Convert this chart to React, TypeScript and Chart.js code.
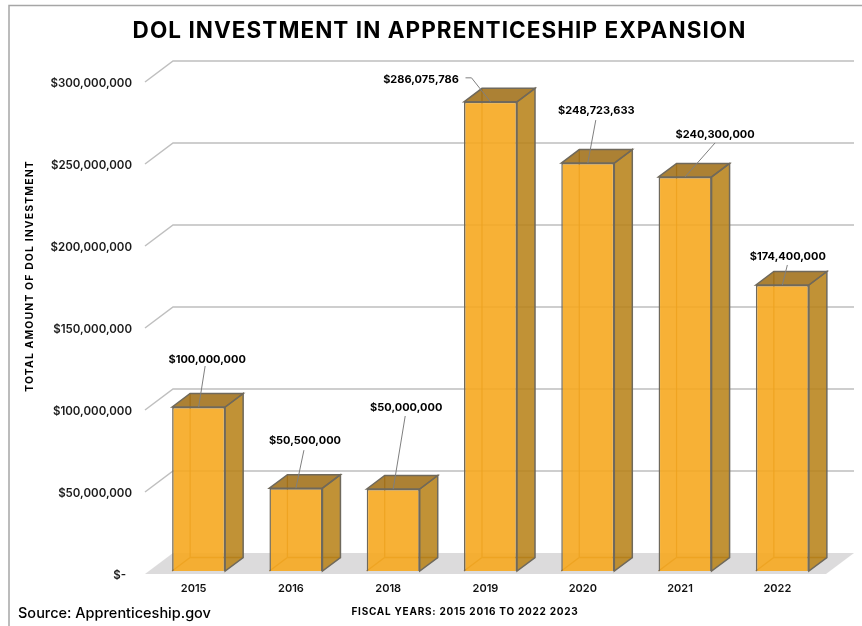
import React, { useEffect, useRef } from "react";
import { Chart, registerables } from "chart.js";

Chart.register(...registerables);

const categories = ["2015", "2016", "2018", "2019", "2020", "2021", "2022"];
const investment = [100000000, 50500000, 50000000, 286075786, 248723633, 240300000, 174400000];
const titleText = "DOL INVESTMENT IN APPRENTICESHIP EXPANSION";
const yTitleText = "TOTAL AMOUNT OF DOL INVESTMENT";
const xTitleText = "FISCAL YEARS: 2015 2016 TO 2022 2023";
const sourceText = "Source: Apprenticeship.gov";

const FONT = "Inter, 'Noto Sans', sans-serif";
const money = (v: number) => "$" + v.toLocaleString("en-US");

// 3-D layout of the scene
const wallDX = 28, wallDY = 21; // from front axis to back wall
const barDX = 18, barDY = 13.5; // bar depth
const shiftX = 5, shiftY = -3; // bars stand a little behind the front edge

// label anchor and leader start, relative to the front-top-centre of each bar
const labelOffsets = [[8.5, -47], [9, -47], [13, -81.5], [-69.5, -22], [8.5, -52], [30, -42], [5.5, -28]];
const leaderOffsets = [[6.5, -41], [8, -38], [12, -73], [-25, -24], [8, -43], [30, -34], [5, -20]];

const scenePlugin = {
  id: "scene",
  beforeDraw(chart: any) {
    const { ctx, width, height } = chart;
    const tb = chart.titleBlock;
    if (tb && !tb.__spaced) {
      const original = tb.draw;
      tb.__spaced = true;
      tb.draw = function (...args: any[]) {
        ctx.save();
        ctx.translate(26.5, 0);
        ctx.letterSpacing = "1.05px";
        original.apply(tb, args);
        ctx.restore();
      };
    }
    ctx.save();
    ctx.fillStyle = "#ffffff";
    ctx.fillRect(0, 0, width, height);
    ctx.strokeStyle = "#a6a6a6";
    ctx.lineWidth = 1.5;
    ctx.beginPath();
    ctx.moveTo(9, height);
    ctx.lineTo(9, 5.5);
    ctx.lineTo(width, 5.5);
    ctx.stroke();
    ctx.restore();
  },
  beforeDatasetsDraw(chart: any) {
    const { ctx, chartArea, scales } = chart;
    const { left, right } = chartArea;
    const y = scales.y;
    ctx.save();
    // floor
    const y0 = y.getPixelForValue(0);
    ctx.fillStyle = "#dcdbdc";
    ctx.beginPath();
    ctx.moveTo(left, y0);
    ctx.lineTo(left + wallDX, y0 - wallDY);
    ctx.lineTo(right + wallDX, y0 - wallDY);
    ctx.lineTo(right, y0);
    ctx.closePath();
    ctx.fill();
    // grid
    ctx.strokeStyle = "#bfbfbf";
    ctx.lineWidth = 1.5;
    y.ticks.forEach((t: any) => {
      if (t.value === 0) return;
      const p = y.getPixelForValue(t.value);
      ctx.beginPath();
      ctx.moveTo(left, p);
      ctx.lineTo(left + wallDX, p - wallDY);
      ctx.lineTo(right + wallDX, p - wallDY);
      ctx.stroke();
    });
    ctx.restore();

    // hidden faces of the boxes, then side and top
    ctx.save();
    ctx.translate(shiftX, shiftY);
    const meta = chart.getDatasetMeta(0);
    meta.data.forEach((bar: any) => {
      const w = bar.width / 2;
      const l = bar.x - w, r = bar.x + w, t = bar.y, b = bar.base;
      // inner edges
      ctx.strokeStyle = "rgba(150,95,10,0.8)";
      ctx.lineWidth = 1.3;
      ctx.beginPath();
      ctx.moveTo(l, b);
      ctx.lineTo(l + barDX, b - barDY);
      ctx.lineTo(r + barDX, b - barDY);
      ctx.moveTo(l + barDX, b - barDY);
      ctx.lineTo(l + barDX, t - barDY);
      ctx.stroke();
      // side
      ctx.lineWidth = 1.5;
      ctx.strokeStyle = "#6f695c";
      ctx.fillStyle = "rgba(184,130,24,0.87)";
      ctx.beginPath();
      ctx.moveTo(r, t);
      ctx.lineTo(r + barDX, t - barDY);
      ctx.lineTo(r + barDX, b - barDY);
      ctx.lineTo(r, b);
      ctx.closePath();
      ctx.fill();
      ctx.stroke();
      // top
      ctx.fillStyle = "rgba(160,110,22,0.87)";
      ctx.beginPath();
      ctx.moveTo(l, t);
      ctx.lineTo(l + barDX, t - barDY);
      ctx.lineTo(r + barDX, t - barDY);
      ctx.lineTo(r, t);
      ctx.closePath();
      ctx.fill();
      ctx.stroke();
    });
  },
  afterDatasetsDraw(chart: any) {
    const { ctx } = chart;
    ctx.restore(); // matches the translate of beforeDatasetsDraw
    const meta = chart.getDatasetMeta(0);
    ctx.save();
    meta.data.forEach((bar: any, i: number) => {
      const px = bar.x + shiftX, py = bar.y + shiftY;
      const [lx, ly] = labelOffsets[i];
      const [sx, sy] = leaderOffsets[i];
      ctx.strokeStyle = "#7f7f7f";
      ctx.lineWidth = 1;
      ctx.beginPath();
      ctx.moveTo(px + sx, py + sy);
      if (i === 3) ctx.lineTo(px + sx + 6, py + sy);
      ctx.lineTo(px, py);
      ctx.stroke();
      ctx.fillStyle = "#000000";
      ctx.font = `700 11px ${FONT}`;
      ctx.textAlign = "center";
      ctx.textBaseline = "middle";
      ctx.fillText(money(investment[i]), px + lx, py + ly);
    });
    ctx.restore();
  },
  afterDraw(chart: any) {
    const { ctx } = chart;
    ctx.save();
    ctx.fillStyle = "#000000";
    ctx.textBaseline = "middle";
    ctx.textAlign = "center";
    ctx.font = `700 10px ${FONT}`;
    ctx.letterSpacing = "0.75px";
    ctx.fillText(xTitleText, 465, 612);
    ctx.save();
    ctx.translate(30, 276);
    ctx.rotate(-Math.PI / 2);
    ctx.font = `700 10.5px ${FONT}`;
    ctx.letterSpacing = "1.1px";
    ctx.fillText(yTitleText, 0, 0);
    ctx.restore();
    ctx.textAlign = "left";
    ctx.letterSpacing = "0px";
    ctx.font = `500 14.5px ${FONT}`;
    ctx.fillText(sourceText, 18, 614);
    ctx.restore();
  },
};

export default function App() {
  const ref = useRef<HTMLCanvasElement>(null);
  useEffect(() => {
    const chart = new Chart(ref.current as HTMLCanvasElement, {
      type: "bar",
      data: {
        labels: categories,
        datasets: [
          {
            label: "DOL investment",
            data: investment,
            backgroundColor: "rgba(246,168,32,0.9)",
            borderColor: "#6f695c",
            borderWidth: 1.5,
            barPercentage: 0.545,
            categoryPercentage: 1,
          },
        ],
      },
      options: {
        responsive: false,
        animation: false,
        layout: { padding: { left: 0, right: 36, top: 0, bottom: 0 } },
        plugins: {
          legend: { display: false },
          tooltip: { enabled: false },
          title: {
            display: true,
            text: titleText,
            color: "#000000",
            font: { family: FONT, size: 22.5, weight: "bold" },
            padding: { top: 18, bottom: 37 },
          },
        },
        scales: {
          x: {
            grid: { display: false, drawTicks: false },
            border: { display: false },
            ticks: {
              color: "#111111",
              maxRotation: 0,
              autoSkip: false,
              padding: 8,
              font: { family: FONT, size: 11, weight: "600" },
            },
            afterFit(s: any) {
              s.height = 52;
            },
          },
          y: {
            min: 0,
            max: 300000000,
            grid: { display: false, drawTicks: false },
            border: { display: false },
            ticks: {
              stepSize: 50000000,
              color: "#1a1a1a",
              padding: 13,
              labelOffset: 2,
              font: { family: FONT, size: 11.5, weight: "600" },
              callback: (v: any) => (Number(v) === 0 ? "$-  " : money(Number(v))),
            },
            afterFit(s: any) {
              s.width = 145;
            },
          },
        },
      },
      plugins: [scenePlugin],
    } as any);
    return () => chart.destroy();
  }, []);
  return (
    <canvas
      ref={ref}
      width={862}
      height={626}
      style={{ position: "fixed", left: 0, top: 0, display: "block" }}
    />
  );
}
